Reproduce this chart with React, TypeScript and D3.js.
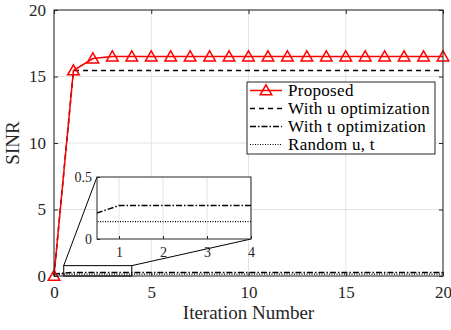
import * as d3 from 'd3';
import { useEffect, useRef } from 'react';

const iterations = [0, 1, 2, 3, 4, 5, 6, 7, 8, 9, 10, 11, 12, 13, 14, 15, 16, 17, 18, 19, 20];
const proposed = [0, 15.45, 16.35, 16.5, 16.5, 16.5, 16.5, 16.5, 16.5, 16.5, 16.5, 16.5, 16.5, 16.5, 16.5, 16.5, 16.5, 16.5, 16.5, 16.5, 16.5];
const withU = [0, 15.45, 15.45, 15.45, 15.45, 15.45, 15.45, 15.45, 15.45, 15.45, 15.45, 15.45, 15.45, 15.45, 15.45, 15.45, 15.45, 15.45, 15.45, 15.45, 15.45];
const withT = [0.15, 0.27, 0.27, 0.27, 0.27, 0.27, 0.27, 0.27, 0.27, 0.27, 0.27, 0.27, 0.27, 0.27, 0.27, 0.27, 0.27, 0.27, 0.27, 0.27, 0.27];
const randomUT = [0.14, 0.14, 0.14, 0.14, 0.14, 0.14, 0.14, 0.14, 0.14, 0.14, 0.14, 0.14, 0.14, 0.14, 0.14, 0.14, 0.14, 0.14, 0.14, 0.14, 0.14];

const xTicks = [0, 5, 10, 15, 20];
const yTicks = [0, 5, 10, 15, 20];
const insetXTicks = [1, 2, 3, 4];
const insetYTicks = [0, 0.5];
const insetXDomain = [0.5, 4];
const insetYDomain = [0, 0.5];
const zoomBoxY = [0, 0.78];

const legendLabels = ['Proposed', 'With u optimization', 'With t optimization', 'Random u, t'];

const series = [
  { values: withU, color: '#000', dash: '5,4', width: 1.5 },
  { values: withT, color: '#000', dash: '6,2,1.5,2', width: 1.5 },
  { values: randomUT, color: '#000', dash: '1,1.5', width: 1.2 },
  { values: proposed, color: '#f00', dash: null, width: 1.5 },
];
const legendStyles = [series[3], series[0], series[1], series[2]];

const FONT = 'Liberation Serif, DejaVu Serif, serif';

const Chart = () => {
  const ref = useRef(null);

  useEffect(() => {
    const svg = d3.select(ref.current);
    svg.selectAll('*').remove();

    const x = d3.scaleLinear([0, 20], [54, 443]);
    const y = d3.scaleLinear([0, 20], [276, 10]);

    // grid
    svg.append('g').selectAll('line').data(xTicks).join('line')
      .attr('x1', (d) => x(d)).attr('x2', (d) => x(d)).attr('y1', y(0)).attr('y2', y(20))
      .attr('stroke', '#e3e3e3').attr('stroke-width', 1);
    svg.append('g').selectAll('line').data(yTicks).join('line')
      .attr('y1', (d) => y(d)).attr('y2', (d) => y(d)).attr('x1', x(0)).attr('x2', x(20))
      .attr('stroke', '#e3e3e3').attr('stroke-width', 1);

    const triangle = d3.symbol().type(d3.symbolTriangle).size(58);

    const drawSeries = (g, xs, ys, clip) => {
      series.forEach((s) => {
        const line = d3.line().x((d, i) => xs(iterations[i])).y((d) => ys(d));
        const p = g.append('path')
          .attr('d', line(s.values))
          .attr('fill', 'none')
          .attr('stroke', s.color)
          .attr('stroke-width', s.width);
        if (s.dash) p.attr('stroke-dasharray', s.dash);
        if (clip) p.attr('clip-path', clip);
      });
    };

    drawSeries(svg.append('g'), x, y, null);

    svg.append('g').selectAll('path').data(proposed).join('path')
      .attr('d', triangle)
      .attr('transform', (d, i) => `translate(${x(iterations[i])},${y(d) + 1})`)
      .attr('fill', 'none')
      .attr('stroke', '#f00')
      .attr('stroke-width', 1.5);

    // frame
    svg.append('rect')
      .attr('x', x(0)).attr('y', y(20)).attr('width', x(20) - x(0)).attr('height', y(0) - y(20))
      .attr('fill', 'none').attr('stroke', '#262626').attr('stroke-width', 1);

    const styleText = (g, size) => g.selectAll('.tick text')
      .attr('font-family', null).attr('font-size', null)
      .style('font-family', FONT).style('font-size', `${size}px`).attr('fill', '#262626');

    // ticks
    const axisB = d3.axisBottom(x).tickValues(xTicks).tickSizeInner(-4).tickSizeOuter(0).tickPadding(10);
    svg.append('g').attr('transform', `translate(0,${y(0)})`).call(axisB)
      .call((g) => g.select('.domain').remove())
      .call((g) => styleText(g, 17));
    const axisL = d3.axisLeft(y).tickValues(yTicks).tickSizeInner(-4).tickSizeOuter(0).tickPadding(8);
    svg.append('g').attr('transform', `translate(${x(0)},0)`).call(axisL)
      .call((g) => g.select('.domain').remove())
      .call((g) => styleText(g, 17));
    svg.append('g').attr('transform', `translate(0,${y(20)})`).call(d3.axisTop(x).tickValues(xTicks).tickSizeInner(-4).tickSizeOuter(0).tickFormat(() => ''))
      .call((g) => g.select('.domain').remove());
    svg.append('g').attr('transform', `translate(${x(20)},0)`).call(d3.axisRight(y).tickValues(yTicks).tickSizeInner(-4).tickSizeOuter(0).tickFormat(() => ''))
      .call((g) => g.select('.domain').remove());
    svg.selectAll('.tick line').attr('stroke', '#262626');

    // axis labels
    svg.append('text').attr('x', (x(0) + x(20)) / 2).attr('y', 319).attr('text-anchor', 'middle')
      .style('font-family', FONT).style('font-size', '19px').attr('fill', '#262626').text('Iteration Number');
    svg.append('text').attr('transform', `translate(19,${(y(0) + y(20)) / 2}) rotate(-90)`).attr('text-anchor', 'middle')
      .style('font-family', FONT).style('font-size', '19px').attr('fill', '#262626').text('SINR');

    // zoom box + inset
    const ix = d3.scaleLinear(insetXDomain, [97, 251]);
    const iy = d3.scaleLinear(insetYDomain, [239, 177]);
    const bx0 = x(insetXDomain[0]);
    const bx1 = x(insetXDomain[1]);
    const by0 = y(zoomBoxY[1]);
    svg.append('rect').attr('x', bx0).attr('y', by0).attr('width', bx1 - bx0).attr('height', y(zoomBoxY[0]) - by0)
      .attr('fill', 'none').attr('stroke', '#000').attr('stroke-width', 1);
    svg.append('line').attr('x1', bx0).attr('y1', by0).attr('x2', ix(insetXDomain[0])).attr('y2', iy(insetYDomain[1]))
      .attr('stroke', '#000').attr('stroke-width', 1);
    svg.append('line').attr('x1', bx1).attr('y1', by0).attr('x2', ix(insetXDomain[1])).attr('y2', iy(insetYDomain[0]))
      .attr('stroke', '#000').attr('stroke-width', 1);

    const inset = svg.append('g');
    inset.append('rect').attr('x', ix(insetXDomain[0])).attr('y', iy(insetYDomain[1]))
      .attr('width', ix(insetXDomain[1]) - ix(insetXDomain[0])).attr('height', iy(insetYDomain[0]) - iy(insetYDomain[1]))
      .attr('fill', '#fff');
    inset.append('g').selectAll('line').data(insetXTicks).join('line')
      .attr('x1', (d) => ix(d)).attr('x2', (d) => ix(d)).attr('y1', iy(0)).attr('y2', iy(0.5))
      .attr('stroke', '#e3e3e3');
    svg.append('clipPath').attr('id', 'inset-clip').append('rect')
      .attr('x', ix(insetXDomain[0])).attr('y', iy(insetYDomain[1]))
      .attr('width', ix(insetXDomain[1]) - ix(insetXDomain[0])).attr('height', iy(insetYDomain[0]) - iy(insetYDomain[1]));
    drawSeries(inset.append('g'), ix, iy, 'url(#inset-clip)');
    inset.append('rect').attr('x', ix(insetXDomain[0])).attr('y', iy(insetYDomain[1]))
      .attr('width', ix(insetXDomain[1]) - ix(insetXDomain[0])).attr('height', iy(insetYDomain[0]) - iy(insetYDomain[1]))
      .attr('fill', 'none').attr('stroke', '#262626');
    inset.append('g').attr('transform', `translate(0,${iy(0)})`)
      .call(d3.axisBottom(ix).tickValues(insetXTicks).tickSizeInner(-3).tickSizeOuter(0).tickPadding(8).tickFormat(d3.format('')))
      .call((g) => g.select('.domain').remove())
      .call((g) => styleText(g, 14));
    inset.append('g').attr('transform', `translate(${ix(insetXDomain[0])},0)`)
      .call(d3.axisLeft(iy).tickValues(insetYTicks).tickSizeInner(-3).tickSizeOuter(0).tickPadding(5).tickFormat(d3.format('')))
      .call((g) => g.select('.domain').remove())
      .call((g) => styleText(g, 14));
    inset.selectAll('.tick line').attr('stroke', '#262626');

    // legend
    const lg = svg.append('g').attr('transform', 'translate(247,82)');
    lg.append('rect').attr('width', 188).attr('height', 72).attr('fill', '#fff').attr('stroke', '#262626').attr('stroke-width', 1);
    legendLabels.forEach((label, i) => {
      const s = legendStyles[i];
      const cy = 8.5 + i * 18;
      const l = lg.append('line').attr('x1', 3).attr('x2', 35).attr('y1', cy).attr('y2', cy)
        .attr('stroke', s.color).attr('stroke-width', s.width);
      if (s.dash) l.attr('stroke-dasharray', s.dash);
      if (i === 0) {
        lg.append('path').attr('d', triangle).attr('transform', `translate(19,${cy + 1})`)
          .attr('fill', 'none').attr('stroke', '#f00').attr('stroke-width', 1.5);
      }
      lg.append('text').attr('x', 41).attr('y', cy + 5).style('font-family', FONT).style('font-size', '17px')
        .style('letter-spacing', '0.3px').attr('fill', '#000').text(label);
    });
  }, []);

  return <svg ref={ref} width={451} height={330} style={{ position: 'absolute', left: 0, top: 0, background: '#fff' }} />;
};

export default function App() {
  return <Chart />;
}
